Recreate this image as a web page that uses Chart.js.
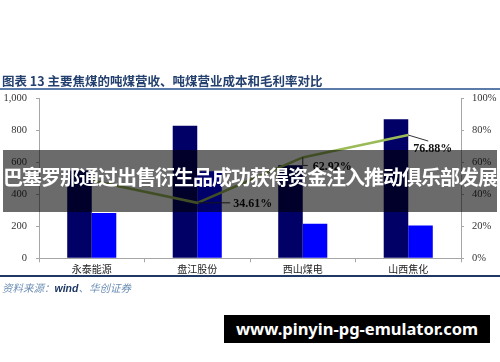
<!DOCTYPE html>
<html>
<head>
<meta charset="utf-8">
<script src="https://cdn.jsdelivr.net/npm/chart.js@4.4.1/dist/chart.umd.min.js"></script>
<style>
  html, body { margin: 0; padding: 0; background: #fff; }
  body { width: 500px; height: 362px; position: relative; overflow: hidden; font-family: "Noto Sans CJK SC", sans-serif; }
  #myChart { position: absolute; left: 0; top: 0; }
  .title { position: absolute; left: 2px; top: 71px; font-size: 12.5px; font-weight: bold; color: #24406e; white-space: nowrap; }
  .rule-top { position: absolute; left: 0; top: 88px; width: 500px; height: 1.5px; background: #5b7ca8; }
  .rule-bottom { position: absolute; left: 0; top: 275px; width: 500px; height: 1.5px; background: #1f3864; }
  .source { position: absolute; left: 2px; top: 280px; font-size: 10.5px; font-style: italic; color: #6d8fb5; white-space: nowrap; }
  .source b { color: #1f3864; font-family: "Liberation Sans", sans-serif; }
  .banner { position: absolute; left: 3px; top: 150px; width: 494px; height: 62px; background: rgba(0,0,0,0.58);
            color: #fff; font-weight: bold; font-size: 20px; letter-spacing: -1px; line-height: 62px; text-align: center; white-space: nowrap; }
  .banner span { position: relative; top: -4px; }
  .mark { position: absolute; left: 224px; top: 315px; width: 266px; height: 28px; background: #000; color: #fff;
          font-family: "Noto Sans", sans-serif; font-weight: bold; font-size: 16.5px; line-height: 28px; text-align: center; }
</style>
</head>
<body>
<canvas id="myChart" width="500" height="362"></canvas>
<div class="title">图表 13 主要焦煤的吨煤营收、吨煤营业成本和毛利率对比</div>
<div class="rule-top"></div>
<div class="rule-bottom"></div>
<div class="source">资料来源：<b>wind</b>、华创证券</div>
<div class="banner"><span>巴塞罗那通过出售衍生品成功获得资金注入推动俱乐部发展</span></div>
<div class="mark">www.pinyin-pg-emulator.com</div>
<script>
// data
const categories = ['永泰能源', '盘江股份', '西山煤电', '山西焦化'];
const revenuePerTon = [548, 827, 580, 868];   // 吨煤营收
const costPerTon = [282, 543, 215, 205];      // 吨煤营业成本
const grossMargin = [48.5, 34.61, 62.92, 76.88]; // 毛利率 %
const marginLabels = [null, '34.61%', '62.92%', '76.88%'];
const leftTicks = [0, 200, 400, 600, 800, 1000];
const rightTicks = [0, 20, 40, 60, 80, 100];

// leader lines + labels for the margin line
const marginLabelPlugin = {
    id: 'marginLabels',
    afterDatasetsDraw(chart) {
        const ctx = chart.ctx;
        const meta = chart.getDatasetMeta(2);
        ctx.save();
        ctx.strokeStyle = '#333';
        ctx.lineWidth = 1;
        ctx.fillStyle = '#111';
        ctx.font = 'bold 12px "Liberation Serif", serif';
        ctx.textBaseline = 'middle';
        ctx.textAlign = 'left';
        meta.data.forEach((pt, i) => {
            const txt = marginLabels[i];
            if (!txt) return;
            const x = pt.x, y = pt.y;
            ctx.beginPath();
            if (i === 1) {
                ctx.moveTo(x + 1, y);
                ctx.lineTo(x + 33, y);
                ctx.stroke();
                ctx.fillText(txt, x + 36, y + 1);
            } else if (i === 2) {
                ctx.moveTo(x, y);
                ctx.lineTo(x, y + 8);
                ctx.lineTo(x + 5, y + 8);
                ctx.stroke();
                ctx.fillText(txt, x + 10, y + 9);
            } else {
                ctx.moveTo(x, y);
                ctx.lineTo(x + 20, y + 6);
                ctx.stroke();
                ctx.fillText(txt, x + 5, y + 14);
            }
        });
        ctx.restore();
    }
};

const ctx1 = document.getElementById('myChart');
const myChart = new Chart(ctx1, {
    data: {
        labels: categories,
        datasets: [{
            type: 'bar',
            label: '吨煤营收',
            data: revenuePerTon,
            backgroundColor: '#000066',
            yAxisID: 'y',
            order: 2
        }, {
            type: 'bar',
            label: '吨煤营业成本',
            data: costPerTon,
            backgroundColor: '#0000ff',
            yAxisID: 'y',
            order: 2
        }, {
            type: 'line',
            label: '毛利率',
            data: grossMargin,
            borderColor: '#9bbb59',
            borderWidth: 2.5,
            pointRadius: 0,
            tension: 0,
            yAxisID: 'y1',
            order: 1
        }]
    },
    options: {
        responsive: false,
        animation: false,
        events: [],
        layout: { padding: { top: 98, left: 0, right: 0, bottom: 0 } },
        datasets: { bar: { categoryPercentage: 0.465, barPercentage: 1.0 } },
        plugins: { legend: { display: false }, tooltip: { enabled: false } },
        scales: {
            x: {
                afterFit: s => { s.height = 103.7; },
                border: { color: '#a6a6a6' },
                grid: { offset: true, drawOnChartArea: false, tickLength: 4, color: '#a6a6a6' },
                ticks: { padding: 1, color: '#222', font: { size: 10, family: '"Noto Sans CJK SC", serif' } }
            },
            y: {
                position: 'left',
                min: 0, max: 1000,
                afterFit: s => { s.width = 39; },
                afterBuildTicks: s => { s.ticks = leftTicks.map(v => ({ value: v })); },
                border: { color: '#a6a6a6' },
                grid: { drawOnChartArea: false, tickLength: 3, color: '#a6a6a6' },
                ticks: {
                    padding: 9, color: '#333',
                    font: { size: 10.5, family: '"Liberation Serif", serif' },
                    callback: v => v.toLocaleString('en-US')
                }
            },
            y1: {
                position: 'right',
                min: 0, max: 100,
                afterFit: s => { s.width = 39; },
                afterBuildTicks: s => { s.ticks = rightTicks.map(v => ({ value: v })); },
                border: { color: '#a6a6a6' },
                grid: { drawOnChartArea: false, tickLength: 3, color: '#a6a6a6' },
                ticks: {
                    padding: 8, color: '#333',
                    font: { size: 10.5, family: '"Liberation Serif", serif' },
                    callback: v => v + '%'
                }
            }
        }
    },
    plugins: [marginLabelPlugin]
});
</script>
</body>
</html>
